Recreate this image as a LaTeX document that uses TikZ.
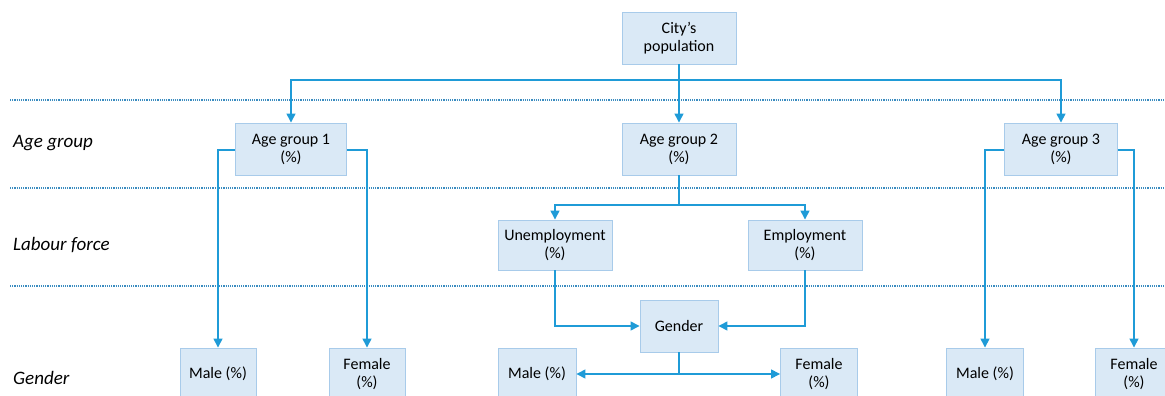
\documentclass[tikz,border=0pt]{standalone}
\usepackage{fontspec}
\setmainfont{Carlito}
\usetikzlibrary{arrows.meta,calc}
\definecolor{boxfill}{HTML}{DAE9F6}
\definecolor{boxline}{HTML}{A8CBEA}
\definecolor{linkblue}{HTML}{1F9BD7}
\definecolor{sepblue}{HTML}{3A8CC0}

\begin{document}
\begin{tikzpicture}[x=1pt,y=-1pt,>={Triangle[length=9pt,width=9pt]},
  box/.style={draw=boxline,fill=boxfill,line width=0.9pt,align=center,inner sep=0pt,
    minimum height=52pt,font=\fontsize{16}{18}\selectfont},
  link/.style={->,draw=linkblue,line width=1.4pt},
  sep/.style={draw=sepblue,line width=1.2pt,densely dotted},
  level/.style={anchor=west,inner sep=0pt,font=\fontsize{19}{22}\selectfont\itshape}]
\useasboundingbox (0,0) rectangle (1165,396);
\begin{scope}
\clip (0,0) rectangle (1165,396);
\draw[sep] (10,100) -- (1165,100);
\draw[sep] (10,188) -- (1165,188);
\draw[sep] (10,286) -- (1165,286);
\node[level] (lage) at (13,143) {Age group};
\node[level] (llab) at (13,245) {Labour force};
\node[level] (lgen) at (13,378) {Gender};
\node[box,minimum width=114pt] (city) at (679,38) {City’s\\population};
\node[box,minimum width=111pt] (ag1) at (291,149) {Age group 1\\(\%)};
\node[box,minimum width=114pt] (ag2) at (679,149) {Age group 2\\(\%)};
\node[box,minimum width=113pt] (ag3) at (1061,149) {Age group 3\\(\%)};
\node[box,minimum width=114pt,minimum height=50pt] (unemp) at (555,245) {Unemployment\\(\%)};
\node[box,minimum width=114pt,minimum height=50pt] (emp) at (805,245) {Employment\\(\%)};
\node[box,minimum width=78pt] (gender) at (679,326) {Gender};
\node[box,minimum width=76pt] (male1) at (218,374) {Male (\%)};
\node[box,minimum width=76pt] (female1) at (367,374) {Female\\(\%)};
\node[box,minimum width=78pt] (male2) at (537,374) {Male (\%)};
\node[box,minimum width=77pt] (female2) at (819,374) {Female\\(\%)};
\node[box,minimum width=77pt] (male3) at (985,374) {Male (\%)};
\node[box,minimum width=77pt] (female3) at (1134,374) {Female\\(\%)};
\coordinate (split1) at (679,80);
\coordinate (split2) at (679,205);
\coordinate (split3) at (gender.south |- male2);
\draw[link] (city) -- (ag2);
\draw[link] (split1) -| (ag1);
\draw[link] (split1) -| (ag3);
\draw[link] ([yshift=-1pt]ag1.west) -| (male1);
\draw[link] ([yshift=-1pt]ag1.east) -| (female1);
\draw[link] ([yshift=-1pt]ag3.west) -| (male3);
\draw[link] ([yshift=-1pt]ag3.east) -| (female3);
\draw[link,-] (ag2) -- (split2);
\draw[link] (split2) -| (unemp);
\draw[link] (split2) -| (emp);
\draw[link] (unemp) |- (gender);
\draw[link] (emp) |- (gender);
\draw[link,-] (gender) -- (split3);
\draw[link] (split3) -- (male2);
\draw[link] (split3) -- (female2);
\end{scope}
\end{tikzpicture}
\end{document}
